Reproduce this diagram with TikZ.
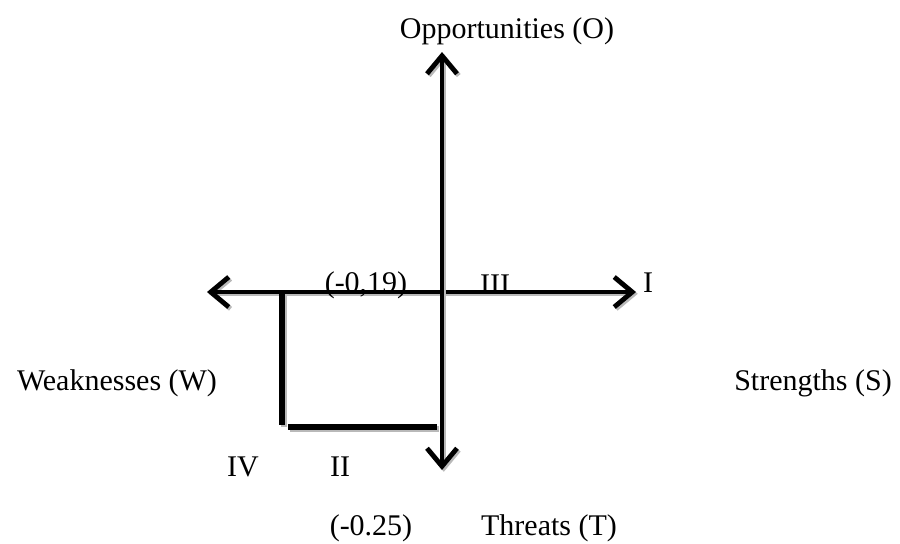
\documentclass[tikz,border=0pt]{standalone}
\usepackage{fontspec}
\setmainfont{Liberation Serif}
\usetikzlibrary{positioning, arrows.meta}
\tikzset{
  % --- axes and bracket lines (with light shadow) ---
  shadowline/.style={preaction={draw=gray!55, line width=#1,
    transform canvas={shift={(0.9pt,-0.9pt)}}}, line width=#1},
  axis/.style={shadowline=2.4pt,
    {Straight Barb[length=9pt, width=15pt]}-{Straight Barb[length=9pt, width=15pt]}},
  bracket/.style={shadowline=3pt},
  % --- labels ---
  lbl/.style={font=\fontsize{15}{18}\selectfont, inner sep=0pt},
}

\begin{document}
\begin{tikzpicture}[x=0.5pt, y=-0.5pt]
    \useasboundingbox (0,0) rectangle (900,543);
    % axis end points
    \coordinate (oTop) at (442,52);
    \coordinate (oBot) at (442,470);
    \coordinate (wEnd) at (207,292);
    \coordinate (sEnd) at (636,292);
    % bracket corners
    \coordinate (b1) at (282,292);
    \coordinate (b2) at (282,425);
    \coordinate (b3) at (288,427);
    \coordinate (b4) at (437,427);
    % axes
    \draw[axis] (wEnd) -- (sEnd);
    \draw[axis] (oBot) -- (oTop);
    \draw[bracket] (b1) -- (b2);
    \draw[bracket] (b3) -- (b4);
    % labels
    \node[lbl] (opp) at (507,31) {Opportunities (O)};
    \node[lbl] (thr) at (549,528) {Threats (T)};
    \node[lbl] (val2) at (371,528) {(-0.25)};
    \node[lbl] (weak) at (117,383) {Weaknesses (W)};
    \node[lbl] (str) at (813,383) {Strengths (S)};
    \node[lbl] (val1) at (366,285) {(-0,19)};
    \node[lbl] (q3) at (495,285) {III};
    \node[lbl] (q1) at (648,283) {I};
    \node[lbl] (q4) at (243,467) {IV};
    \node[lbl] (q2) at (340,467) {II};
\end{tikzpicture}
\end{document}
